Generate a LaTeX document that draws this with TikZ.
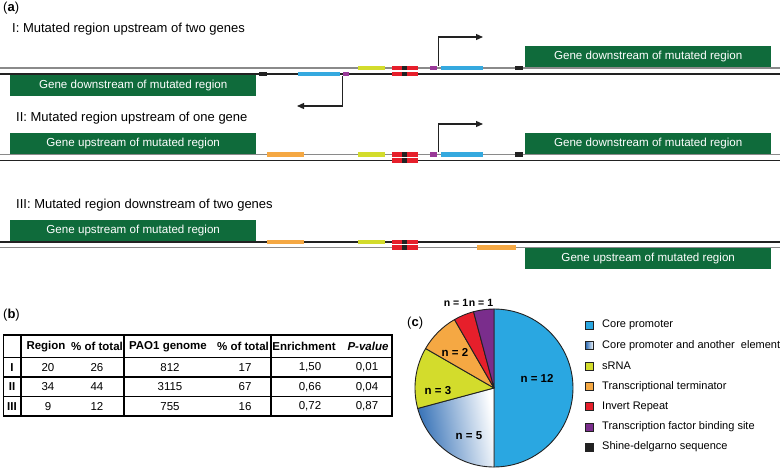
\documentclass[tikz,border=0pt]{standalone}
\usepackage{fontspec}
\setmainfont{Liberation Sans}
\usetikzlibrary{arrows.meta}
\definecolor{genegreen}{HTML}{0F6B3B}
\definecolor{cblue}{HTML}{35A9DF}
\definecolor{pieblue}{HTML}{2AA7E1}
\definecolor{cyel}{HTML}{D3DC2C}
\definecolor{corange}{HTML}{F5A843}
\definecolor{cred}{HTML}{E61F2B}
\definecolor{cpurp}{HTML}{9A3A98}
\definecolor{piepurp}{HTML}{7A2D8C}
\definecolor{gradblue}{HTML}{2E6CB4}
\definecolor{cblack}{HTML}{222222}
\definecolor{strandgray}{HTML}{8A8A8A}
\newcommand{\segm}[4]{\fill[#1] (#2,#4-2.35) rectangle (#3,#4+2.35);}
\newcommand{\redblk}[2]{%
  \segm{cred}{392}{418}{#1}\segm{cred}{392}{418}{#2}%
  \segm{cblack}{402}{407}{#1}\segm{cblack}{402}{407}{#2}}
\begin{document}
\begin{tikzpicture}[x=1pt,y=-1pt,
  gene/.style={fill=genegreen,text=white,inner sep=0,minimum width=246pt,minimum height=21pt,font=\fontsize{11.6}{13}\selectfont},
  title/.style={anchor=west,inner sep=0,font=\fontsize{13}{15}\selectfont},
  panel/.style={anchor=west,inner sep=0,font=\fontsize{13}{15}\selectfont},
  darkstrand/.style={draw=cblack,line width=1.1pt},
  lightstrand/.style={draw=strandgray,line width=1.1pt},
  prom/.style={draw=cblack,line width=1.2pt,-{Triangle[length=7pt,width=6pt]}},
  cell/.style={inner sep=0,font=\fontsize{11.5}{13}\selectfont},
  hcell/.style={inner sep=0,font=\fontsize{11.5}{13}\selectfont\bfseries},
  nlab/.style={inner sep=0,font=\fontsize{11.5}{13}\selectfont\bfseries},
  nsmall/.style={inner sep=0,font=\fontsize{10.5}{12}\selectfont\bfseries},
  leg/.style={anchor=west,inner sep=0,font=\fontsize{11}{13}\selectfont},
  legbox/.style={draw=cblack,line width=0.6pt,minimum size=8pt,inner sep=0},
  slice/.style={draw=cblack,line width=0.9pt,line join=round}]
\useasboundingbox (0,0) rectangle (780,468);
% ---------- panel a ----------
\node[panel] (pa) at (3,8) {(\textbf{a})};
% Row I
\node[title] (t1) at (12,29) {I: Mutated region upstream of two genes};
\draw[lightstrand] (0,68) -- (780,68);
\draw[darkstrand] (0,74) -- (780,74);
\node[gene,anchor=north west] (g1l) at (10,74.6) {Gene downstream of mutated region};
\node[gene,anchor=south west] (g1r) at (525,67.4) {Gene downstream of mutated region};
\segm{cblack}{259}{267}{74}
\segm{cblue}{298}{340}{74}
\segm{cpurp}{343}{349}{74}
\segm{cyel}{358}{385}{68}
\redblk{68}{74}
\segm{cpurp}{430}{437}{68}
\segm{cblue}{441}{483}{68}
\segm{cblack}{515}{523}{68}
\coordinate (p1a) at (342.5,76);
\coordinate (p1b) at (342.5,106);
\coordinate (p1c) at (297,106);
\draw[prom] (p1a) -- (p1b) -- (p1c);
\coordinate (p2a) at (438.5,66);
\coordinate (p2b) at (438.5,37);
\coordinate (p2c) at (483,37);
\draw[prom] (p2a) -- (p2b) -- (p2c);
% Row II
\node[title] (t2) at (16,118) {II: Mutated region upstream of one gene};
\draw[lightstrand] (0,154.5) -- (780,154.5);
\draw[darkstrand] (0,160.7) -- (780,160.7);
\node[gene,anchor=south west] (g2l) at (10,154) {Gene upstream of mutated region};
\node[gene,anchor=south west] (g2r) at (525,154) {Gene downstream of mutated region};
\segm{corange}{267}{304}{154.5}
\segm{cyel}{358}{385}{154.5}
\redblk{154.5}{160.7}
\segm{cpurp}{430}{437}{154.5}
\segm{cblue}{441}{483}{154.5}
\segm{cblack}{515}{523}{154.5}
\coordinate (p3a) at (438.5,152.5);
\coordinate (p3b) at (438.5,124);
\coordinate (p3c) at (483,124);
\draw[prom] (p3a) -- (p3b) -- (p3c);
% Row III
\node[title] (t3) at (16,205) {III: Mutated region downstream of two genes};
\draw[darkstrand] (0,242) -- (780,242);
\draw[lightstrand] (0,247.5) -- (780,247.5);
\node[gene,anchor=south west] (g3l) at (10,241.5) {Gene upstream of mutated region};
\node[gene,anchor=north west] (g3r) at (525,248) {Gene upstream of mutated region};
\segm{corange}{267}{304}{242}
\segm{cyel}{358}{385}{242}
\redblk{242}{247.5}
\segm{corange}{477}{516}{247.5}
% ---------- panel b ----------
\node[panel] (pb) at (3,315) {(\textbf{b})};
\draw[line width=1.4pt] (3.5,335) rectangle (392,416);
\foreach \yy in {357.5,377,396.5} \draw[line width=1.1pt] (3.5,\yy) -- (392,\yy);
\foreach \xx in {21,124,271} \draw[line width=1.1pt] (\xx,335) -- (\xx,416);
\node[hcell] (h1) at (46,346.5) {Region};
\node[hcell] (h2) at (97,346.5) {\% of total};
\node[hcell] (h3) at (168,346.5) {PAO1 genome};
\node[hcell] (h4) at (243,346.5) {\% of total};
\node[hcell] (h5) at (304,346.5) {Enrichment};
\node[hcell] (h6) at (368,346.5) {\itshape P-value};
\node[hcell] (r1) at (12,367.5) {I};
\node[cell] at (48,367.5) {20};
\node[cell] at (97,367.5) {26};
\node[cell] at (170,367.5) {812};
\node[cell] at (245,367.5) {17};
\node[cell] at (310,367.5) {1,50};
\node[cell] at (367,367.5) {0,01};
\node[hcell] (r2) at (12,387) {II};
\node[cell] at (48,387) {34};
\node[cell] at (97,387) {44};
\node[cell] at (170,387) {3115};
\node[cell] at (245,387) {67};
\node[cell] at (310,387) {0,66};
\node[cell] at (367,387) {0,04};
\node[hcell] (r3) at (12,406.5) {III};
\node[cell] at (48,406.5) {9};
\node[cell] at (97,406.5) {12};
\node[cell] at (170,406.5) {755};
\node[cell] at (245,406.5) {16};
\node[cell] at (310,406.5) {0,72};
\node[cell] at (367,406.5) {0,87};
% ---------- panel c ----------
\node[panel] (pc) at (407,323) {(\textbf{c})};
\coordinate (pcen) at (494,388);
\begin{scope}[shift={(pcen)},y=1pt]
  \def\R{79}
  \filldraw[slice,fill=pieblue] (0,0) -- (90:\R) arc[start angle=90,end angle=-90,radius=\R] -- cycle;
  \shadedraw[slice,left color=gradblue,right color=white,shading angle=100] (0,0) -- (195:\R) arc[start angle=195,end angle=270,radius=\R] -- cycle;
  \filldraw[slice,fill=cyel] (0,0) -- (150:\R) arc[start angle=150,end angle=195,radius=\R] -- cycle;
  \filldraw[slice,fill=corange] (0,0) -- (120:\R) arc[start angle=120,end angle=150,radius=\R] -- cycle;
  \filldraw[slice,fill=cred] (0,0) -- (105:\R) arc[start angle=105,end angle=120,radius=\R] -- cycle;
  \filldraw[slice,fill=piepurp] (0,0) -- (90:\R) arc[start angle=90,end angle=105,radius=\R] -- cycle;
\end{scope}
\node[nlab] (n12) at (537,378) {n = 12};
\node[nlab] (n5) at (469,436) {n = 5};
\node[nlab] (n3) at (438,391) {n = 3};
\node[nlab] (n2) at (455,352) {n = 2};
\node[nsmall] (n1a) at (456,303) {n = 1};
\node[nsmall] (n1b) at (481,303) {n = 1};
% legend
\node[legbox,fill=pieblue] (l1) at (589.7,325.3) {};
\node[legbox,left color=gradblue,right color=white] (l2) at (589.7,345.6) {};
\node[legbox,fill=cyel] (l3) at (589.7,365.9) {};
\node[legbox,fill=corange] (l4) at (589.7,386.2) {};
\node[legbox,fill=cred] (l5) at (589.7,406.5) {};
\node[legbox,fill=piepurp] (l6) at (589.7,426.8) {};
\node[legbox,fill=cblack] (l7) at (589.7,447.1) {};
\node[leg] at (602,325.3) {Core promoter};
\node[leg] at (602,345.6) {Core promoter and another\ \ element};
\node[leg] at (602,365.9) {sRNA};
\node[leg] at (602,386.2) {Transcriptional terminator};
\node[leg] at (602,406.5) {Invert Repeat};
\node[leg] at (602,426.8) {Transcription factor binding site};
\node[leg] at (602,447.1) {Shine-delgarno sequence};
\end{tikzpicture}
\end{document}
